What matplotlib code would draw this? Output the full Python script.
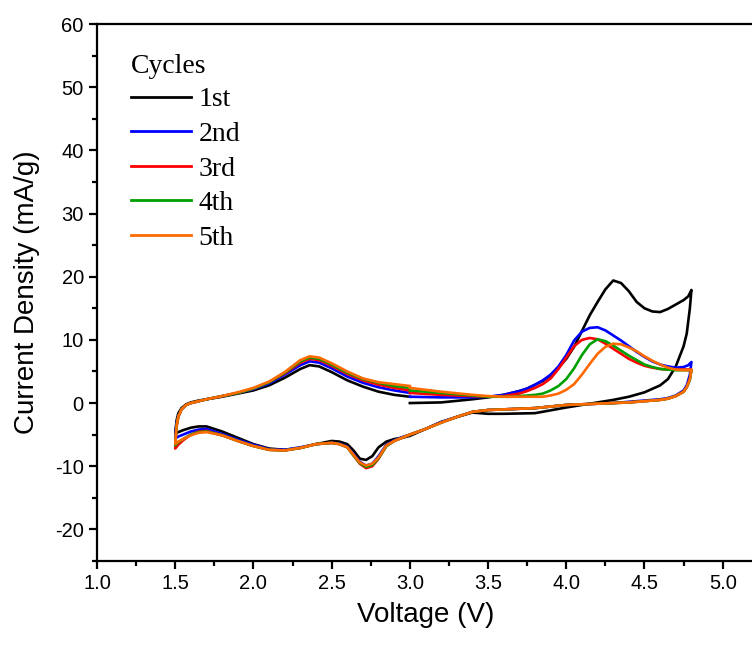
import matplotlib
matplotlib.use("Agg")
import matplotlib.pyplot as plt
from matplotlib.ticker import MultipleLocator

plt.rcParams['font.family'] = ['Liberation Sans', 'DejaVu Sans']
plt.rcParams['axes.unicode_minus'] = False

cycle_labels = ["1st", "2nd", "3rd", "4th", "5th"]
cycle_colors = ["#000000", "#0000FF", "#FF0000", "#00A000", "#FF6A00"]

# anodic sweep 3.0 -> 4.8 V
v_anodic = [3.0, 3.2, 3.4, 3.5, 3.6, 3.65, 3.7, 3.75, 3.8, 3.85, 3.9, 3.95, 4.0,
            4.05, 4.1, 4.15, 4.2, 4.25, 4.3, 4.35, 4.4, 4.45, 4.5, 4.55, 4.6, 4.65,
            4.7, 4.75, 4.78, 4.8]
i_anodic_1 = [0.0, 0.1, 0.6, 0.9, 1.3, 1.6, 1.9, 2.3, 2.9, 3.5, 4.4, 5.6, 7.0,
              8.9, 11.4, 13.9, 16.0, 18.0, 19.4, 19.0, 17.7, 16.0, 15.0, 14.5, 14.4, 14.9,
              15.6, 16.3, 16.9, 17.9]
i_anodic_2 = [1.0, 0.9, 0.9, 1.0, 1.3, 1.6, 1.9, 2.3, 2.9, 3.6, 4.5, 5.8, 7.6,
              9.9, 11.3, 11.9, 12.0, 11.5, 10.7, 9.9, 9.0, 8.1, 7.3, 6.6, 6.1, 5.8,
              5.6, 5.7, 6.0, 6.5]
i_anodic_3 = [1.6, 1.3, 1.1, 1.0, 1.1, 1.3, 1.5, 1.9, 2.4, 3.0, 3.9, 5.4, 7.2,
              9.0, 10.0, 10.3, 10.1, 9.4, 8.6, 7.8, 7.0, 6.4, 5.9, 5.6, 5.4, 5.3,
              5.3, 5.3, 5.3, 5.3]
i_anodic_4 = [2.0, 1.6, 1.2, 1.0, 1.0, 1.0, 1.1, 1.2, 1.3, 1.5, 2.0, 2.7, 3.8,
              5.5, 7.6, 9.3, 10.1, 9.8, 9.1, 8.3, 7.5, 6.8, 6.1, 5.7, 5.4, 5.3,
              5.2, 5.2, 5.2, 5.2]
i_anodic_5 = [2.4, 1.8, 1.3, 1.1, 1.0, 1.0, 1.0, 1.0, 1.0, 1.0, 1.2, 1.5, 2.1,
              3.0, 4.5, 6.2, 7.8, 8.9, 9.4, 9.3, 8.8, 8.2, 7.4, 6.7, 6.1, 5.6,
              5.3, 5.2, 5.2, 5.3]

# cathodic sweep 4.8 -> 1.5 V
v_cathodic = [4.8, 4.79, 4.77, 4.75, 4.7, 4.65, 4.6, 4.5, 4.4, 4.3, 4.2, 4.0, 3.8,
              3.6, 3.5, 3.4, 3.3, 3.2, 3.1, 3.0, 2.95, 2.9, 2.85, 2.8, 2.76, 2.72,
              2.68, 2.64, 2.6, 2.55, 2.5, 2.4, 2.3, 2.2, 2.1, 2.0, 1.9, 1.8, 1.7,
              1.65, 1.6, 1.55, 1.52, 1.5]
i_cathodic_1 = [17.9, 15.0, 11.0, 9.0, 5.8, 3.8, 2.8, 1.7, 1.0, 0.5, 0.1, -0.7, -1.6,
                -1.7, -1.7, -1.5, -2.2, -3.0, -4.1, -5.2, -5.5, -5.7, -6.1, -7.0, -8.4, -9.0,
                -8.8, -7.5, -6.5, -6.1, -6.0, -6.5, -7.1, -7.4, -7.2, -6.5, -5.5, -4.5, -3.7,
                -3.7, -3.9, -4.3, -4.6, -4.8]
i_cathodic_2 = [6.5, 4.5, 2.8, 2.0, 1.2, 0.8, 0.6, 0.4, 0.2, 0.0, -0.1, -0.3, -0.8,
                -1.0, -1.1, -1.4, -2.2, -3.0, -4.1, -5.0, -5.4, -5.9, -6.6, -8.4, -9.6, -9.9,
                -9.3, -8.1, -6.9, -6.4, -6.3, -6.5, -7.0, -7.4, -7.3, -6.6, -5.8, -4.9, -4.1,
                -4.2, -4.5, -5.0, -5.3, -5.6]
i_cathodic_3 = [5.3, 3.8, 2.5, 1.8, 1.1, 0.7, 0.5, 0.3, 0.1, 0.0, -0.1, -0.3, -0.8,
                -1.0, -1.1, -1.4, -2.2, -3.1, -4.1, -5.0, -5.5, -6.0, -6.8, -8.8, -10.0, -10.3,
                -9.6, -8.3, -7.0, -6.5, -6.3, -6.5, -7.1, -7.5, -7.4, -6.8, -6.0, -5.1, -4.4,
                -4.5, -5.0, -5.9, -6.6, -7.2]
i_cathodic_4 = [5.2, 3.7, 2.5, 1.8, 1.1, 0.7, 0.5, 0.3, 0.1, 0.0, -0.1, -0.3, -0.8,
                -1.0, -1.1, -1.4, -2.2, -3.1, -4.1, -5.0, -5.5, -6.0, -6.8, -8.7, -9.8, -10.1,
                -9.5, -8.3, -7.0, -6.5, -6.3, -6.5, -7.1, -7.5, -7.4, -6.8, -6.0, -5.1, -4.5,
                -4.6, -5.0, -5.7, -6.2, -6.7]
i_cathodic_5 = [5.3, 3.8, 2.5, 1.8, 1.1, 0.7, 0.5, 0.3, 0.1, 0.0, -0.1, -0.3, -0.8,
                -1.0, -1.1, -1.4, -2.2, -3.1, -4.1, -5.0, -5.5, -6.0, -6.7, -8.6, -9.6, -9.9,
                -9.4, -8.2, -7.0, -6.5, -6.3, -6.5, -7.1, -7.5, -7.4, -6.8, -6.0, -5.1, -4.6,
                -4.7, -5.1, -5.7, -6.1, -6.5]

# anodic sweep 1.5 -> 3.0 V
v_return = [1.5, 1.505, 1.51, 1.52, 1.54, 1.57, 1.6, 1.65, 1.7, 1.8, 1.9, 2.0, 2.1,
            2.2, 2.3, 2.36, 2.42, 2.5, 2.6, 2.7, 2.8, 2.9, 3.0]
i_return_1 = [-4.8, -3.6, -2.6, -1.6, -0.8, -0.2, 0.1, 0.4, 0.6, 1.0, 1.5, 2.0, 2.8,
              4.0, 5.4, 6.0, 5.8, 4.9, 3.6, 2.6, 1.8, 1.3, 1.0]
i_return_2 = [-5.6, -4.0, -3.0, -2.0, -1.0, -0.3, 0.0, 0.3, 0.6, 1.1, 1.6, 2.2, 3.1,
              4.5, 6.0, 6.6, 6.4, 5.5, 4.2, 3.2, 2.5, 2.0, 1.6]
i_return_3 = [-7.2, -5.1, -3.6, -2.2, -1.0, -0.3, 0.0, 0.3, 0.6, 1.1, 1.6, 2.3, 3.3,
              4.7, 6.4, 7.0, 6.8, 5.9, 4.6, 3.6, 2.9, 2.4, 2.0]
i_return_4 = [-6.7, -4.8, -3.4, -2.1, -1.0, -0.3, 0.0, 0.3, 0.6, 1.1, 1.6, 2.3, 3.3,
              4.8, 6.6, 7.2, 7.0, 6.1, 4.8, 3.8, 3.2, 2.7, 2.4]
i_return_5 = [-6.5, -4.7, -3.4, -2.1, -1.0, -0.3, 0.0, 0.3, 0.6, 1.1, 1.7, 2.4, 3.4,
              4.9, 6.8, 7.4, 7.2, 6.3, 5.0, 3.9, 3.3, 3.0, 2.7]

anodic = [i_anodic_1, i_anodic_2, i_anodic_3, i_anodic_4, i_anodic_5]
cathodic = [i_cathodic_1, i_cathodic_2, i_cathodic_3, i_cathodic_4, i_cathodic_5]
returns = [i_return_1, i_return_2, i_return_3, i_return_4, i_return_5]

fig = plt.figure(figsize=(7.52, 6.46), dpi=100)
ax = fig.add_axes([97 / 752, 85 / 646, 657 / 752, 537 / 646])

for k in range(5):
    v = v_anodic + v_cathodic[1:] + v_return[1:]
    i = anodic[k] + cathodic[k][1:] + returns[k][1:]
    ax.plot(v, i, color=cycle_colors[k], lw=1.9, label=cycle_labels[k],
            solid_joinstyle='round')

ax.set_xlim(1.0, 5.2)
ax.set_ylim(-25, 60)
ax.xaxis.set_minor_locator(MultipleLocator(0.25))
ax.yaxis.set_minor_locator(MultipleLocator(5))
ax.set_xticks([1.0, 1.5, 2.0, 2.5, 3.0, 3.5, 4.0, 4.5, 5.0])
ax.set_xticklabels(["1.0", "1.5", "2.0", "2.5", "3.0", "3.5", "4.0", "4.5", "5.0"])
ax.set_yticks([-20, -10, 0, 10, 20, 30, 40, 50, 60])
ax.set_yticklabels(["-20", "-10", "0", "10", "20", "30", "40", "50", "60"])

for s in ax.spines.values():
    s.set_linewidth(1.6)
ax.tick_params(which='major', direction='out', length=6, width=1.6, labelsize=14.5,
               top=False, right=False)
ax.tick_params(which='minor', direction='out', length=3.5, width=1.6,
               top=False, right=False)

ax.set_xlabel("Voltage (V)", fontsize=20, labelpad=6)
ax.set_ylabel("Current Density (mA/g)", fontsize=20, labelpad=11)

leg = ax.legend(title="Cycles", loc='upper left', bbox_to_anchor=(0.052, 0.945),
                frameon=False, prop={'family': 'Liberation Serif', 'size': 20},
                title_fontproperties={'family': 'Liberation Serif', 'size': 20},
                alignment='left', handlelength=2.15, handletextpad=0.28,
                labelspacing=0.33, borderaxespad=0.0, borderpad=0.0)
leg._legend_box.sep = 6
for line in leg.get_lines():
    line.set_linewidth(2.0)

fig.savefig("out.png", dpi=100)
